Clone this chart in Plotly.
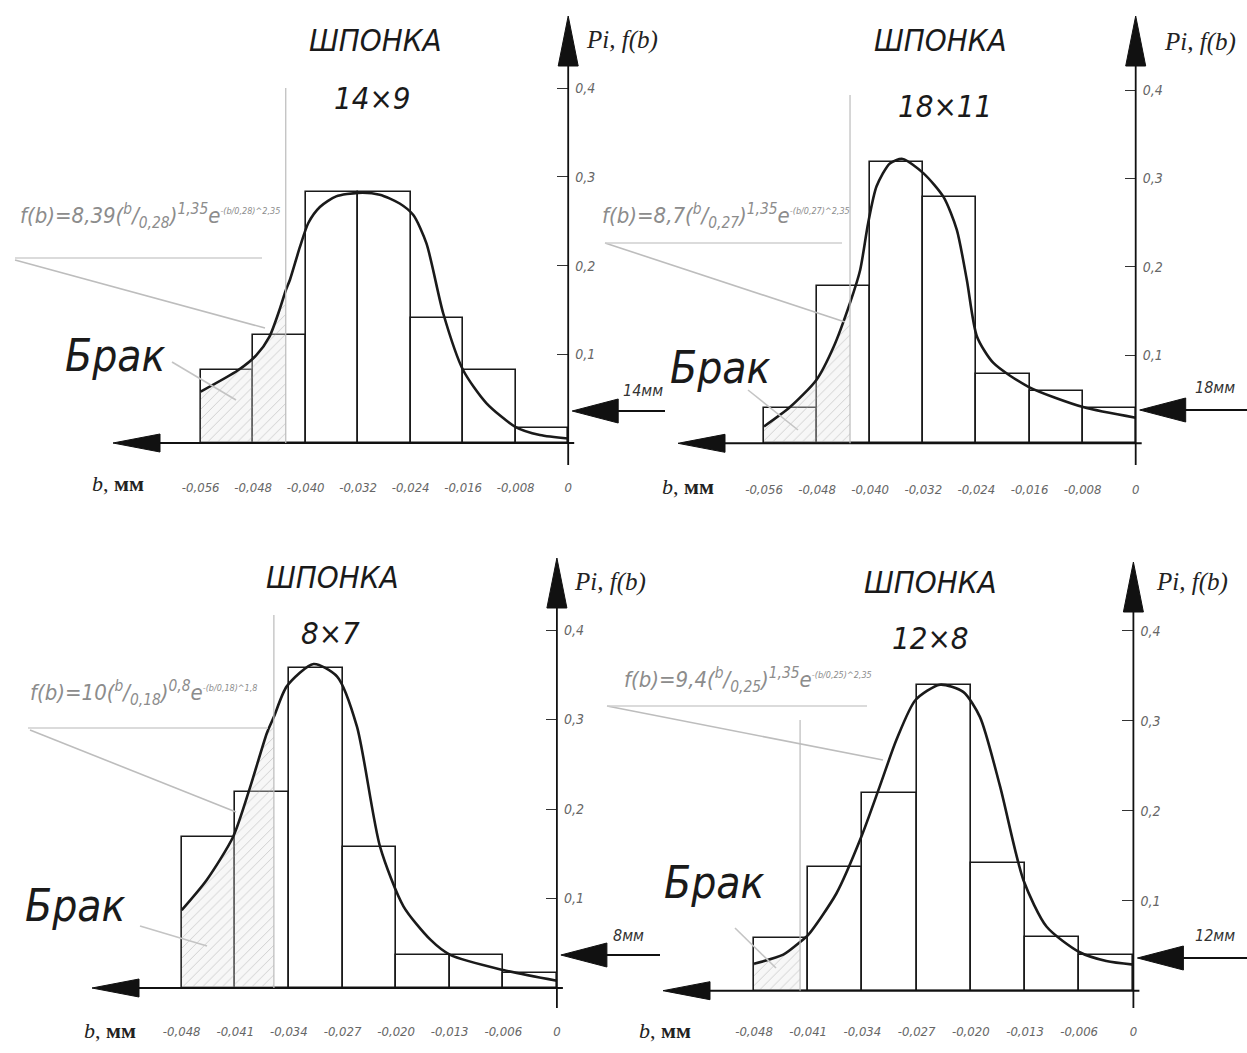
import numpy as np
import plotly.graph_objects as go

W, H = 1247, 1053

# ---------------- data ----------------
title_top = ["ШПОНКА", "ШПОНКА", "ШПОНКА", "ШПОНКА"]
title_size = ["14×9", "18×11", "8×7", "12×8"]
ticks_top = ["-0,056", "-0,048", "-0,040", "-0,032", "-0,024", "-0,016", "-0,008", "0"]
ticks_bottom = ["-0,048", "-0,041", "-0,034", "-0,027", "-0,020", "-0,013", "-0,006", "0"]
y_tick_vals = [0.1, 0.2, 0.3, 0.4]
y_tick_text = ["0,1", "0,2", "0,3", "0,4"]
mm_labels = ["14мм", "18мм", "8мм", "12мм"]

# bar heights P_i (7 intervals per panel)
p1_bars = [0.082, 0.122, 0.283, 0.283, 0.141, 0.082, 0.017]
p2_bars = [0.040, 0.178, 0.319, 0.279, 0.079, 0.059, 0.040]
p3_bars = [0.169, 0.219, 0.358, 0.158, 0.037, 0.037, 0.017]
p4_bars = [0.059, 0.138, 0.220, 0.340, 0.142, 0.060, 0.040]

# density curves f(b) (x in interval units from the left tick)
p1_cx = [0, 0.71, 1.06, 1.31, 1.5, 1.62, 1.7, 1.89, 2.05, 2.27, 2.58, 3.0, 3.41, 3.79, 4.05, 4.3, 4.62, 5.0, 5.44, 6.0, 6.46, 7.0]
p1_cy = [0.058, 0.082, 0.099, 0.12, 0.15, 0.172, 0.184, 0.221, 0.248, 0.266, 0.278, 0.282, 0.28, 0.27, 0.257, 0.225, 0.146, 0.082, 0.045, 0.018, 0.009, 0.005]
p2_cx = [0, 0.49, 0.99, 1.31, 1.62, 1.81, 1.96, 2.12, 2.37, 2.61, 3.0, 3.38, 3.63, 3.82, 4.01, 4.32, 4.98, 6.01, 7.0]
p2_cy = [0.019, 0.041, 0.072, 0.109, 0.159, 0.196, 0.249, 0.291, 0.317, 0.322, 0.306, 0.279, 0.242, 0.185, 0.121, 0.091, 0.064, 0.041, 0.029]
p3_cx = [0, 0.47, 0.96, 1.28, 1.59, 1.72, 1.96, 2.46, 2.9, 3.27, 3.7, 4.14, 4.64, 5.01, 6.0, 7.0]
p3_cy = [0.087, 0.121, 0.169, 0.225, 0.285, 0.303, 0.337, 0.362, 0.348, 0.292, 0.158, 0.091, 0.054, 0.037, 0.020, 0.008]
p4_cx = [0, 0.54, 0.85, 1.0, 1.52, 1.98, 2.32, 2.63, 2.98, 3.43, 3.86, 4.17, 4.54, 4.97, 5.4, 6.0, 6.5, 7.0]
p4_cy = [0.030, 0.040, 0.054, 0.062, 0.108, 0.171, 0.227, 0.279, 0.323, 0.340, 0.332, 0.304, 0.227, 0.123, 0.071, 0.043, 0.033, 0.029]

# reject ("Брак") boundary, in interval units
brak_edges = [1.62, 1.62, 1.72, 0.85]

formulas = [
    ("8,39", "0,28", "1,35", "2,35"),
    ("8,7", "0,27", "1,35", "2,35"),
    ("10", "0,18", "0,8", "1,8"),
    ("9,4", "0,25", "1,35", "2,35"),
]

bars = [p1_bars, p2_bars, p3_bars, p4_bars]
curves = [(p1_cx, p1_cy), (p2_cx, p2_cy), (p3_cx, p3_cy), (p4_cx, p4_cy)]
xticks = [ticks_top, ticks_top, ticks_bottom, ticks_bottom]

# ---------------- layout (pixels) ----------------
panels = [
    dict(x0=200.7, bw=52.5, y0=443.0, ppu=887, dom=(100, 680, 15, 478), xtip=113, ytip=16, ybot=465,
         mm_y=411, mm_end=665, mm_lab=(643, 390), brak=(115, 355), t1=(375, 40), t2=(372, 98),
         bmm=(118, 483), pif=(622, 40), form=(18, 216), underline=(15, 262, 258),
         lead_f=((15, 260), (265, 328)), lead_b=((172, 362), (236, 400)), vtop=88),
    dict(x0=764.0, bw=53.1, y0=443.3, ppu=883, dom=(665, 1247, 15, 480), xtip=678, ytip=16, ybot=465,
         mm_y=410, mm_end=1247, mm_lab=(1215, 387), brak=(720, 367), t1=(940, 40), t2=(945, 106),
         bmm=(688, 487), pif=(1200, 42), form=(600, 216), underline=(605, 842, 243),
         lead_f=((605, 243), (845, 322)), lead_b=((748, 390), (798, 430)), vtop=95),
    dict(x0=181.7, bw=53.6, y0=988.0, ppu=895, dom=(80, 665, 555, 1022), xtip=92, ytip=558, ybot=1008,
         mm_y=955, mm_end=660, mm_lab=(628, 935), brak=(75, 905), t1=(332, 577), t2=(330, 633),
         bmm=(110, 1030), pif=(610, 582), form=(28, 693), underline=(28, 268, 728),
         lead_f=((30, 730), (236, 812)), lead_b=((140, 926), (207, 946)), vtop=615),
    dict(x0=754.0, bw=54.2, y0=990.7, ppu=900, dom=(650, 1247, 555, 1022), xtip=663, ytip=562, ybot=1008,
         mm_y=958, mm_end=1247, mm_lab=(1215, 935), brak=(715, 882), t1=(930, 582), t2=(930, 638),
         bmm=(665, 1030), pif=(1192, 582), form=(622, 680), underline=(607, 867, 706),
         lead_f=((607, 706), (883, 760)), lead_b=((735, 928), (776, 968)), vtop=720),
]

NARROW = "Liberation Sans Narrow, Arial Narrow, DejaVu Sans Condensed, Liberation Sans, sans-serif"
SERIF = "Liberation Serif, DejaVu Serif, serif"


def px(x):
    return x / W


def py(y):
    return 1 - y / H


fig = go.Figure()
shapes = []
annotations = []
layout_axes = {}

for i, p in enumerate(panels):
    n = "" if i == 0 else str(i + 1)
    xa, ya = "x" + n, "y" + n
    L, R, T, B = p["dom"]
    xmin = (L - p["x0"]) / p["bw"]
    xmax = (R - p["x0"]) / p["bw"]
    ymax = (p["y0"] - T) / p["ppu"]
    ymin = (p["y0"] - B) / p["ppu"]
    x7 = p["x0"] + 7 * p["bw"]

    vals = bars[i]
    centers = [k + 0.5 for k in range(len(vals))]
    fig.add_trace(go.Bar(x=centers, y=vals, width=1.0, xaxis=xa, yaxis=ya,
                         marker=dict(color="white", line=dict(color="#1a1a1a", width=1.6)),
                         showlegend=False, hoverinfo="skip"))

    cx, cy = curves[i]
    b = brak_edges[i]
    hx = [x for x in cx if x <= b + 1e-9]
    hy = [y for x, y in zip(cx, cy) if x <= b + 1e-9]
    poly_x = hx + [b, 0]
    poly_y = hy + [0, 0]
    fig.add_trace(go.Scatter(x=poly_x, y=poly_y, xaxis=xa, yaxis=ya, mode="lines",
                             fill="toself", line=dict(width=0, color="rgba(0,0,0,0)"),
                             fillcolor="rgba(215,215,215,0.35)",
                             fillpattern=dict(shape="/", fgcolor="#9a9a9a", bgcolor="rgba(230,230,230,0.35)",
                                              size=7, solidity=0.12),
                             showlegend=False, hoverinfo="skip"))
    fig.add_trace(go.Scatter(x=cx, y=cy, xaxis=xa, yaxis=ya, mode="lines",
                             line=dict(color="#1a1a1a", width=2.6, shape="spline", smoothing=0.7),
                             showlegend=False, hoverinfo="skip"))

    layout_axes["xaxis" + n] = dict(domain=[px(L), px(R)], range=[xmin, xmax], anchor=ya,
                                    tickvals=list(range(8)), ticktext=xticks[i],
                                    showgrid=False, zeroline=False, showline=False, ticks="",
                                    tickfont=dict(family=NARROW, size=13, color="#666", style="italic"))
    layout_axes["yaxis" + n] = dict(domain=[py(B), py(T)], range=[ymin, ymax], anchor="free",
                                    position=px(x7), side="right",
                                    tickvals=y_tick_vals, ticktext=y_tick_text,
                                    showgrid=False, zeroline=False, showline=False,
                                    ticks="inside", ticklen=11, tickwidth=1.3, tickcolor="#333",
                                    ticklabelstandoff=6,
                                    tickfont=dict(family=NARROW, size=14, color="#666", style="italic"))

    # axes lines
    y0 = p["y0"]
    shapes.append(dict(type="line", xref="paper", yref="paper", x0=px(p["xtip"] + 30), y0=py(y0),
                       x1=px(x7 + 6), y1=py(y0), line=dict(color="#111", width=2)))
    shapes.append(dict(type="line", xref="paper", yref="paper", x0=px(x7), y0=py(p["ybot"]),
                       x1=px(x7), y1=py(p["ytip"] + 30), line=dict(color="#111", width=1.8)))
    # arrowheads
    xt = p["xtip"]
    shapes.append(dict(type="path", xref="paper", yref="paper",
                       path=f"M {px(xt)},{py(y0)} L {px(xt + 47)},{py(y0 - 9)} L {px(xt + 47)},{py(y0 + 9)} Z",
                       fillcolor="#111", line=dict(color="#111", width=1)))
    yt = p["ytip"]
    shapes.append(dict(type="path", xref="paper", yref="paper",
                       path=f"M {px(x7)},{py(yt)} L {px(x7 - 10)},{py(yt + 50)} L {px(x7 + 10)},{py(yt + 50)} Z",
                       fillcolor="#111", line=dict(color="#111", width=1)))
    # mm arrow
    mt = x7 + 4
    my = p["mm_y"]
    shapes.append(dict(type="line", xref="paper", yref="paper", x0=px(mt + 40), y0=py(my),
                       x1=px(p["mm_end"]), y1=py(my), line=dict(color="#111", width=1.8)))
    shapes.append(dict(type="path", xref="paper", yref="paper",
                       path=f"M {px(mt)},{py(my)} L {px(mt + 46)},{py(my - 12)} L {px(mt + 46)},{py(my + 12)} Z",
                       fillcolor="#111", line=dict(color="#111", width=1)))
    annotations.append(dict(xref="paper", yref="paper", x=px(p["mm_lab"][0]), y=py(p["mm_lab"][1]),
                            text=mm_labels[i], showarrow=False, xanchor="center", yanchor="middle",
                            font=dict(family=NARROW, size=16, color="#333", style="italic")))

    # brak boundary and faint construction line
    bx = p["x0"] + b * p["bw"]
    shapes.append(dict(type="line", xref="paper", yref="paper", x0=px(bx), y0=py(p["vtop"]),
                       x1=px(bx), y1=py(y0), line=dict(color="#bbbbbb", width=1.2)))
    # leader lines
    (a1, a2), (c1, c2) = p["lead_f"]
    shapes.append(dict(type="line", xref="paper", yref="paper", x0=px(a1), y0=py(a2), x1=px(c1), y1=py(c2),
                       line=dict(color="#bdbdbd", width=1.6)))
    (a1, a2), (c1, c2) = p["lead_b"]
    shapes.append(dict(type="line", xref="paper", yref="paper", x0=px(a1), y0=py(a2), x1=px(c1), y1=py(c2),
                       line=dict(color="#c4c4c4", width=1.6)))
    u0, u1, uy = p["underline"]
    shapes.append(dict(type="line", xref="paper", yref="paper", x0=px(u0), y0=py(uy), x1=px(u1), y1=py(uy),
                       line=dict(color="#cfcfcf", width=1.3)))

    # texts
    annotations.append(dict(xref="paper", yref="paper", x=px(p["t1"][0]), y=py(p["t1"][1]), text=title_top[i],
                            showarrow=False, xanchor="center", yanchor="middle",
                            font=dict(family=NARROW, size=31, color="#1a1a1a", style="italic")))
    annotations.append(dict(xref="paper", yref="paper", x=px(p["t2"][0]), y=py(p["t2"][1]), text=title_size[i],
                            showarrow=False, xanchor="center", yanchor="middle",
                            font=dict(family=NARROW, size=31, color="#1a1a1a", style="italic")))
    annotations.append(dict(xref="paper", yref="paper", x=px(p["brak"][0]), y=py(p["brak"][1]), text="Брак",
                            showarrow=False, xanchor="center", yanchor="middle",
                            font=dict(family=NARROW, size=44, color="#1a1a1a", style="italic")))
    annotations.append(dict(xref="paper", yref="paper", x=px(p["bmm"][0]), y=py(p["bmm"][1]),
                            text="<i>b</i>, <b>мм</b>", showarrow=False, xanchor="center", yanchor="middle",
                            font=dict(family=SERIF, size=22, color="#222")))
    annotations.append(dict(xref="paper", yref="paper", x=px(p["pif"][0]), y=py(p["pif"][1]),
                            text="Pi, f(b)", showarrow=False, xanchor="center", yanchor="middle",
                            font=dict(family=SERIF, size=25, color="#222", style="italic")))
    k, s, a, c = formulas[i]
    ftxt = (f"f(b)={k}(<sup>b</sup>/<sub>{s}</sub>)<sup>{a}</sup>e"
            f"<sup><span style='font-size:9px'>-(b/{s})^{c}</span></sup>")
    annotations.append(dict(xref="paper", yref="paper", x=px(p["form"][0]), y=py(p["form"][1]), text=ftxt,
                            showarrow=False, xanchor="left", yanchor="middle",
                            font=dict(family=NARROW, size=22, color="#8c8c8c", style="italic")))

fig.update_layout(
    width=W, height=H, autosize=False,
    margin=dict(l=0, r=0, t=0, b=0),
    paper_bgcolor="white", plot_bgcolor="rgba(0,0,0,0)",
    barmode="overlay", bargap=0,
    shapes=shapes, annotations=annotations,
    **layout_axes,
)

fig.write_html("out.html", config={"displayModeBar": False},
               post_script="document.body.style.margin='0';document.body.style.overflow='hidden';")
